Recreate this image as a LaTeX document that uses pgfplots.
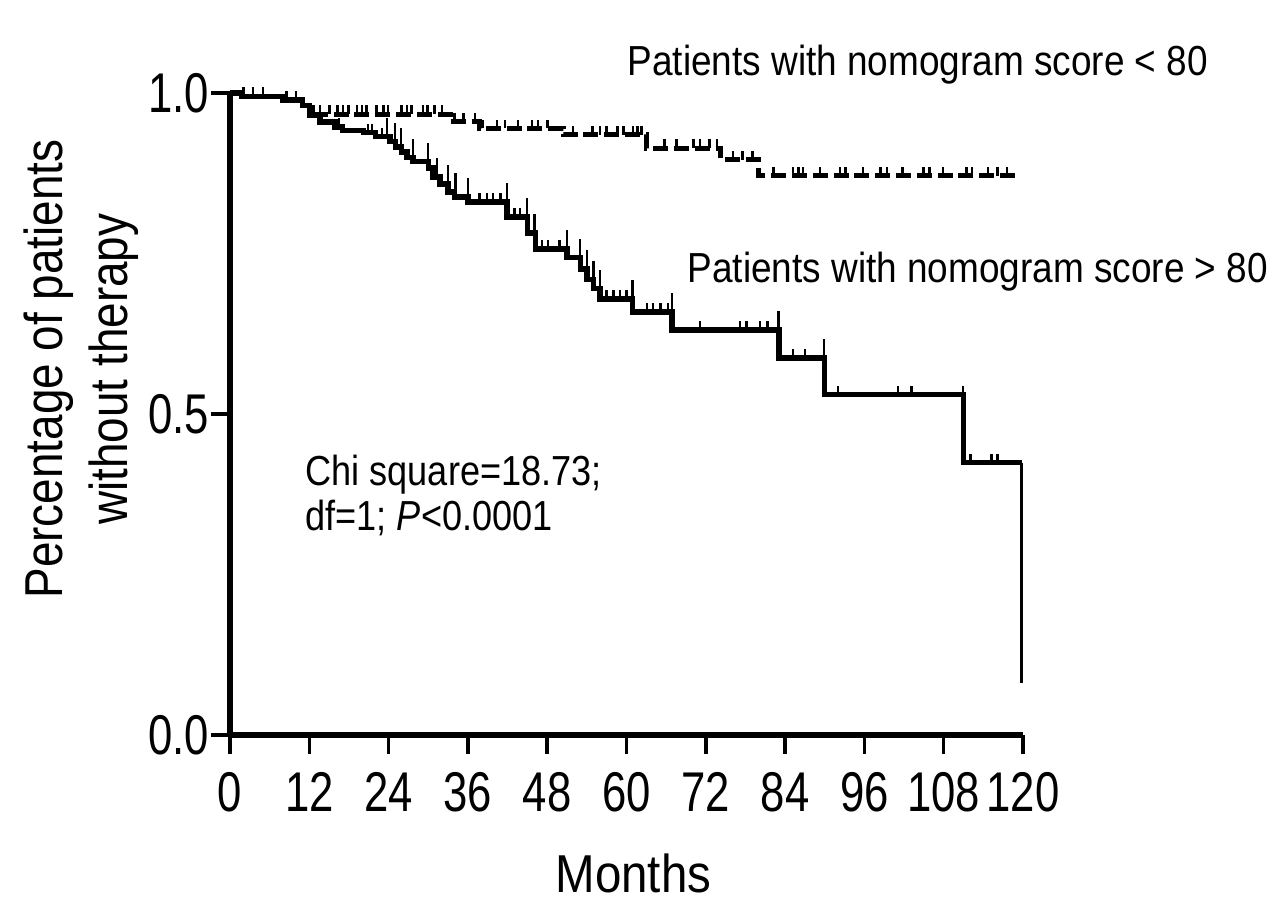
\documentclass[border=0pt]{standalone}
\usepackage{fontspec}
\setmainfont{Liberation Sans}[FakeStretch=0.86]
\newfontfamily\tickfam{Liberation Sans}[FakeStretch=0.78]
\newfontfamily\legfam{Liberation Sans}[FakeStretch=0.88]
\newfontfamily\monfam{Liberation Sans}[FakeStretch=0.89]
\usepackage{pgfplots}
\pgfplotsset{compat=1.18}
\pgfdeclareplotmark{cens}{\pgfpathmoveto{\pgfqpoint{0pt}{0pt}}\pgfpathlineto{\pgfqpoint{0pt}{3.3pt}}\pgfusepathqstroke}
\pgfdeclareplotmark{censT}{\pgfpathmoveto{\pgfqpoint{0pt}{0pt}}\pgfpathlineto{\pgfqpoint{0pt}{7pt}}\pgfusepathqstroke}
\begin{document}
\begin{tikzpicture}
\useasboundingbox (-86.25pt,-67.125pt) rectangle (393.75pt,275.625pt);
\begin{axis}[
  at={(0,0)}, anchor=south west,
  scale only axis, width=297.375pt, height=240.75pt,
  xmin=0, xmax=120, ymin=0, ymax=1,
  axis lines=left, axis line style={line width=2pt, -},
  clip=false,
  xtick={0,12,24,36,48,60,72,84,96,108,120},
  xticklabels={0,12,24,36,48,60,72,84,96,108,120},
  ytick={0,0.5,1},
  yticklabels={0.0,0.5,1.0},
  tick align=outside,
  major tick length=7pt,
  major tick style={line width=1.3pt, black},
  xticklabel style={font=\tickfam\fontsize{21pt}{24pt}\selectfont, inner sep=0pt, yshift=-7pt},
  yticklabel style={font=\tickfam\fontsize{21pt}{24pt}\selectfont, inner sep=0pt, xshift=-0.6pt},
  xlabel={Months},
  xlabel style={at={(axis description cs:0.5088,-0.2461)}, anchor=base, font=\monfam\fontsize{20pt}{24pt}\selectfont, inner sep=0pt},
  ylabel={Percentage of patients\\without therapy},
  ylabel style={at={(axis description cs:-0.1880,0.570)}, anchor=center, align=center, font=\fontsize{20pt}{24.5pt}\selectfont, inner sep=0pt},
]
% score < 80 (dashed)
\addplot[const plot, black, line width=1.9pt, dash pattern=on 5.6pt off 2.2pt] coordinates {
(0,1.0) (1.8,0.995) (8,0.989) (11,0.981) (12,0.967) (33.3,0.955) (37.8,0.945) (50.4,0.935) (63,0.914) (74.2,0.896) (80,0.871) (119.5,0.871)};
% score > 80 (solid)
\addplot[const plot, black, line width=2pt] coordinates {
(0,1.0) (1.8,0.995) (8,0.989) (11,0.981) (12,0.965) (13.6,0.955) (15.9,0.947) (17,0.942) (20.2,0.938) (22,0.932) (24.2,0.924) (25,0.916) (26,0.908) (26.8,0.900) (27.7,0.893) (30,0.883) (30.7,0.869) (31.8,0.858) (33,0.846) (34,0.838) (36,0.830) (41.9,0.807) (45,0.782) (46.2,0.757) (51,0.744) (53,0.726) (54,0.710) (55,0.696) (56,0.679) (60.9,0.659) (66.9,0.631) (83.1,0.587) (90,0.530) (111,0.424) (119.8,0.424)};
\addplot[black, line width=0.9pt] coordinates {(119.8,0.424) (119.8,0.081)};
% censor marks, dashed group
\addplot[only marks, mark=cens, mark options={line width=1pt, solid, black}] coordinates {
(2,0.995) (3.5,0.995) (5,0.995) (8.5,0.989) (10,0.989)
(12.6,0.967) (13.6,0.967) (15.1,0.967) (16.3,0.967) (17.1,0.967) (17.9,0.967) (19.2,0.967) (20,0.967) (20.7,0.967) (22.2,0.967) (23.2,0.967) (23.9,0.967) (26,0.967) (26.8,0.967) (27.5,0.967) (29.2,0.967) (29.9,0.967) (30.9,0.967) (32.1,0.967)
(34,0.955) (35.3,0.955) (37.1,0.955)
(38.3,0.945) (40.4,0.945) (41.6,0.945) (43.6,0.945) (45.7,0.945) (46.6,0.945) (48,0.945)
(51.9,0.935) (54.9,0.935) (56,0.935) (57,0.935) (58.6,0.935) (59.5,0.935) (61,0.935) (61.7,0.935) (62.3,0.935)
(65.8,0.914) (67.6,0.914) (70.1,0.914) (71.1,0.914) (72.6,0.914) (73.7,0.914)
(76.1,0.896) (77.6,0.896) (79.1,0.896)
(82.2,0.871) (85.2,0.871) (86,0.871) (86.7,0.871) (89.3,0.871) (92.3,0.871) (93.1,0.871) (95.8,0.871) (98.4,0.871) (99.4,0.871) (101.8,0.871) (104.9,0.871) (105.9,0.871) (107.9,0.871) (111.5,0.871) (112.3,0.871) (114.7,0.871) (116.1,0.871) (117.6,0.871)};
% censor marks, solid group
\addplot[only marks, mark=cens, mark options={line width=1pt, solid, black}] coordinates {
(16.5,0.947) (20.9,0.938) (21.5,0.938) (23,0.932)
(37.8,0.830) (38.9,0.830) (39.8,0.830) (40.9,0.830)
(43.1,0.807) (43.9,0.807)
(47.2,0.757) (48.1,0.757) (49.9,0.757)
(57,0.679) (58,0.679) (59,0.679) (60,0.679)
(63.1,0.659) (64,0.659) (65.1,0.659) (66.3,0.659)
(71.1,0.631) (77.2,0.631) (78.2,0.631) (80.2,0.631) (81.3,0.631)
(85.2,0.587) (87,0.587)
(92,0.530) (101.1,0.530) (103.1,0.530) (110.9,0.530)
(112.1,0.424) (115.2,0.424) (116.1,0.424)};
\addplot[only marks, mark=censT, mark options={line width=0.9pt, solid, black}] coordinates {
(23.8,0.932) (25,0.924) (25.9,0.916) (27.7,0.900) (30,0.893) (31.3,0.869) (33,0.858) (34.1,0.846) (36,0.838)
(41.9,0.830) (44.9,0.807) (46.1,0.782) (51,0.757) (53,0.744) (54,0.726) (55,0.710) (56,0.696) (60.9,0.679) (66.9,0.659) (83.0,0.631) (89.9,0.587)};
% annotations
\node[anchor=base west, inner sep=0pt, font=\legfam\fontsize{15.75pt}{18pt}\selectfont] at (axis cs:60.08,1.0265) {Patients with nomogram score < 80};
\node[anchor=base west, inner sep=0pt, font=\legfam\fontsize{15.75pt}{18pt}\selectfont] at (axis cs:69.16,0.7056) {Patients with nomogram score > 80};
\node[anchor=base west, inner sep=0pt, font=\fontsize{15.75pt}{18pt}\selectfont] at (axis cs:11.35,0.3894) {Chi square=18.73;};
\node[anchor=base west, inner sep=0pt, font=\fontsize{15.75pt}{18pt}\selectfont] at (axis cs:11.35,0.3193) {df=1; \textit{P}<0.0001};
\end{axis}
\end{tikzpicture}
\end{document}
